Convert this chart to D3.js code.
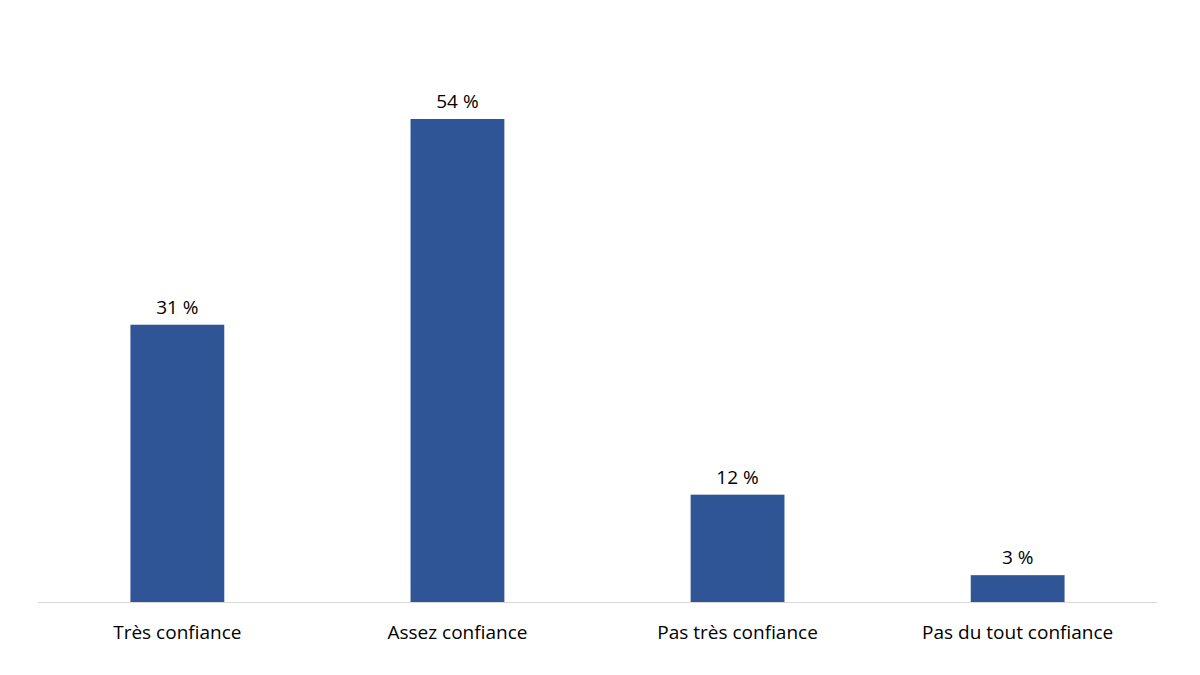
<!DOCTYPE html>
<html>
<head>
<meta charset="utf-8">
<script src="https://cdn.jsdelivr.net/npm/d3@7"></script>
<style>
  body { margin: 0; background: #fff; }
  text { font-family: "Open Sans", "Liberation Sans", sans-serif; }
</style>
</head>
<body>
<script>
// chart data
var categories = ["Très confiance", "Assez confiance", "Pas très confiance", "Pas du tout confiance"];
var values = [31, 54, 12, 3];
var valueLabels = ["31 %", "54 %", "12 %", "3 %"];

function drawChart() {
    var width = 1200, height = 675;
    var left = 38, right = 1157, baseline = 602;

    var svg = d3.select("body").append("svg")
        .attr("width", width)
        .attr("height", height);

    var x = d3.scaleBand()
        .domain(categories)
        .range([left, right])
        .paddingInner(0.665)
        .paddingOuter(0.33);

    //54 % sits at y=119
    var y = d3.scaleLinear()
        .domain([0, 54])
        .range([baseline, 119]);

    svg.selectAll("rect.bar")
        .data(values)
        .join("rect")
        .attr("class", "bar")
        .attr("x", (d, i) => x(categories[i]))
        .attr("y", d => y(d))
        .attr("width", x.bandwidth())
        .attr("height", d => baseline - y(d))
        .attr("fill", "#2f5597");

    // baseline
    svg.append("line")
        .attr("x1", left).attr("x2", right)
        .attr("y1", baseline + 0.5).attr("y2", baseline + 0.5)
        .attr("stroke", "#d9d9d9")
        .attr("stroke-width", 1);

    // value labels
    svg.selectAll("text.val")
        .data(values)
        .join("text")
        .attr("class", "val")
        .attr("x", (d, i) => x(categories[i]) + x.bandwidth() / 2)
        .attr("y", d => y(d) - 11)
        .attr("text-anchor", "middle")
        .attr("font-size", 19)
        .attr("fill", "#000")
        .text((d, i) => valueLabels[i]);

    // category labels
    var xAxis = svg.append("g")
        .attr("transform", `translate(0,${baseline})`)
        .call(d3.axisBottom(x).tickSize(0).tickPadding(24));
    xAxis.select(".domain").remove();
    xAxis.selectAll("text")
        .attr("font-size", 19)
        .attr("fill", "#000")
        .style("font-family", "'Open Sans', 'Liberation Sans', sans-serif");
}

drawChart();
</script>
</body>
</html>
